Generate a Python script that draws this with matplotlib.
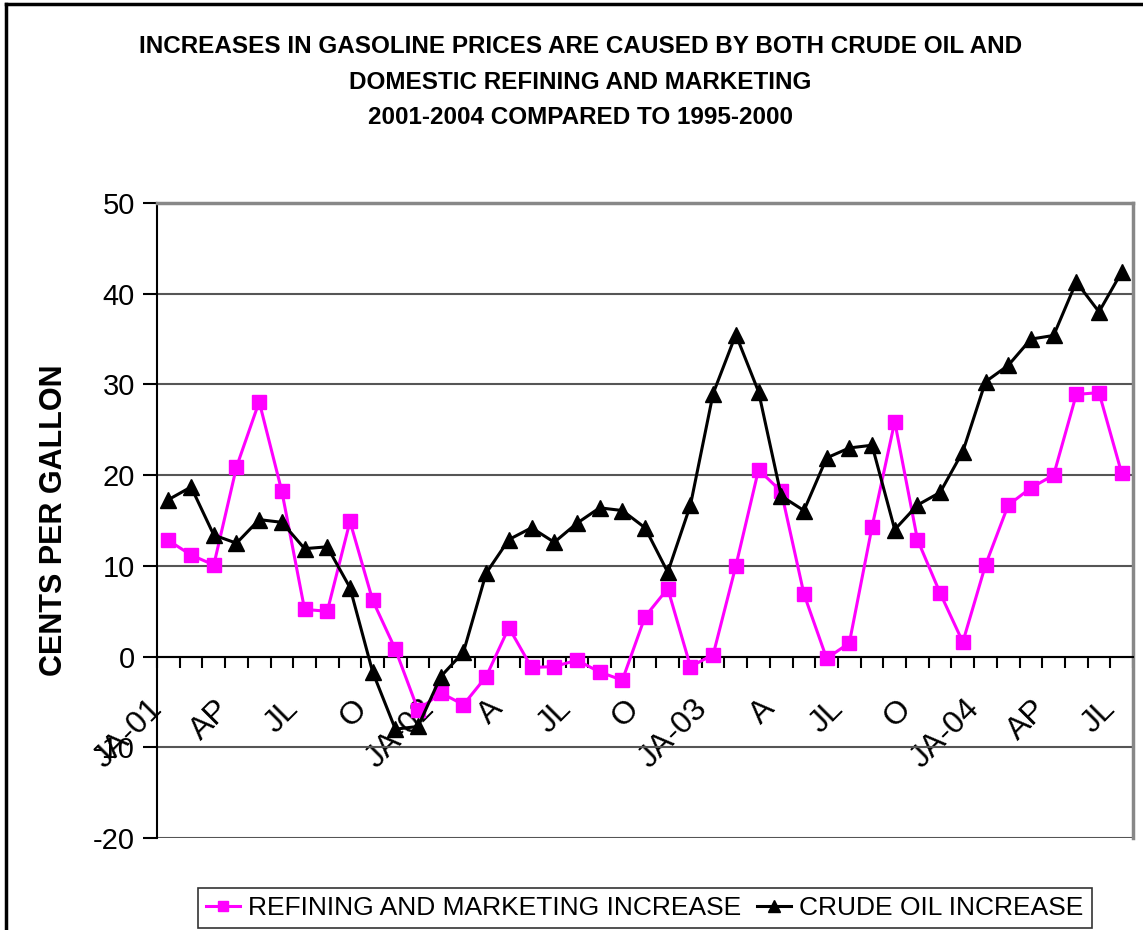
import matplotlib
matplotlib.use('Agg')
import matplotlib.pyplot as plt
from matplotlib.lines import Line2D
import numpy as np

plt.rcParams['font.family'] = ['Liberation Sans', 'DejaVu Sans']
plt.rcParams['axes.unicode_minus'] = False

# monthly, JA-01 .. JL-04
tick_labels = ['JA-01', 'AP', 'JL', 'O', 'JA-02', 'A', 'JL', 'O',
               'JA-03', 'A', 'JL', 'O', 'JA-04', 'AP', 'JL']
refining = [12.8, 11.2, 10.1, 20.9, 28.1, 18.2, 5.2, 5.0, 14.9, 6.2,
            0.8, -5.9, -4.0, -5.3, -2.2, 3.2, -1.2, -1.1, -0.4, -1.7,
            -2.6, 4.4, 7.5, -1.1, 0.2, 10.0, 20.6, 18.2, 6.9, -0.2,
            1.5, 14.3, 25.9, 12.9, 7.0, 1.6, 10.1, 16.7, 18.6, 20.0,
            28.9, 29.1, 20.2]
crude = [17.3, 18.7, 13.4, 12.5, 15.1, 14.8, 11.9, 12.1, 7.6, -1.7,
         -8.0, -7.7, -2.2, 0.5, 9.2, 12.9, 14.2, 12.6, 14.7, 16.4,
         16.1, 14.2, 9.3, 16.7, 29.0, 35.5, 29.2, 17.7, 16.1, 21.9,
         23.0, 23.3, 14.0, 16.7, 18.1, 22.6, 30.3, 32.1, 35.0, 35.4,
         41.3, 38.0, 42.4]

n = len(refining)
x = np.arange(n)

fig = plt.figure(figsize=(11.43, 9.30), dpi=100)
ax = fig.add_axes([0.1374, 0.0989, 0.8539, 0.6828])

ax.set_xlim(-0.5, n - 0.5)
ax.set_ylim(-20, 50)
ax.set_yticks(np.arange(-20, 51, 10))
ax.grid(axis='y', color='#555555', linewidth=1.5)
ax.set_axisbelow(True)

ax.plot(x, refining, color='#FF00FF', linewidth=2.2, marker='s',
        markersize=10, markeredgecolor='#FF00FF', label='REFINING AND MARKETING INCREASE', zorder=3)
ax.plot(x, crude, color='black', linewidth=2.2, marker='^',
        markersize=11, label='CRUDE OIL INCREASE', zorder=4)

# category axis crosses at zero
ax.spines['bottom'].set_position(('data', 0))
ax.spines['bottom'].set_linewidth(1.5)
ax.spines['left'].set_linewidth(1.5)
for s in ['top', 'right']:
    ax.spines[s].set_color('#888888')
    ax.spines[s].set_linewidth(2.5)

ax.set_xticks(x[::3])
ax.set_xticklabels(tick_labels, rotation=45, ha='right', va='top', fontsize=23)
ax.set_xticks(np.arange(-0.5, n, 1), minor=True)
ax.tick_params(axis='x', which='major', length=0, pad=27)
ax.tick_params(axis='x', which='minor', length=8, width=1.5, direction='out')
ax.tick_params(axis='y', length=10, width=1.5, direction='out', labelsize=21, pad=6)

ax.set_ylabel('CENTS PER GALLON', fontsize=22, fontweight='bold', labelpad=17)

fig.text(0.508, 0.962,
         'INCREASES IN GASOLINE PRICES ARE CAUSED BY BOTH CRUDE OIL AND\n'
         'DOMESTIC REFINING AND MARKETING\n'
         '2001-2004 COMPARED TO 1995-2000',
         ha='center', va='top', fontsize=17.5, fontweight='bold',
         linespacing=1.68)

leg = fig.legend(loc='center', bbox_to_anchor=(0.564, 0.0237), ncol=2,
                 frameon=True, fancybox=False, edgecolor='black',
                 prop={'size': 19},
                 handlelength=1.3, handletextpad=0.3, columnspacing=0.6,
                 borderpad=0.3, markerscale=0.75)
leg.get_frame().set_linewidth(1.2)

# outer chart border
fig.add_artist(Line2D([6 / 1143, 1.0], [1 - 4 / 930, 1 - 4 / 930],
                      transform=fig.transFigure, color='black', linewidth=2.5))
fig.add_artist(Line2D([6 / 1143, 6 / 1143], [0.0, 1 - 4 / 930],
                      transform=fig.transFigure, color='black', linewidth=2.5))

fig.savefig('out.png', dpi=100)
